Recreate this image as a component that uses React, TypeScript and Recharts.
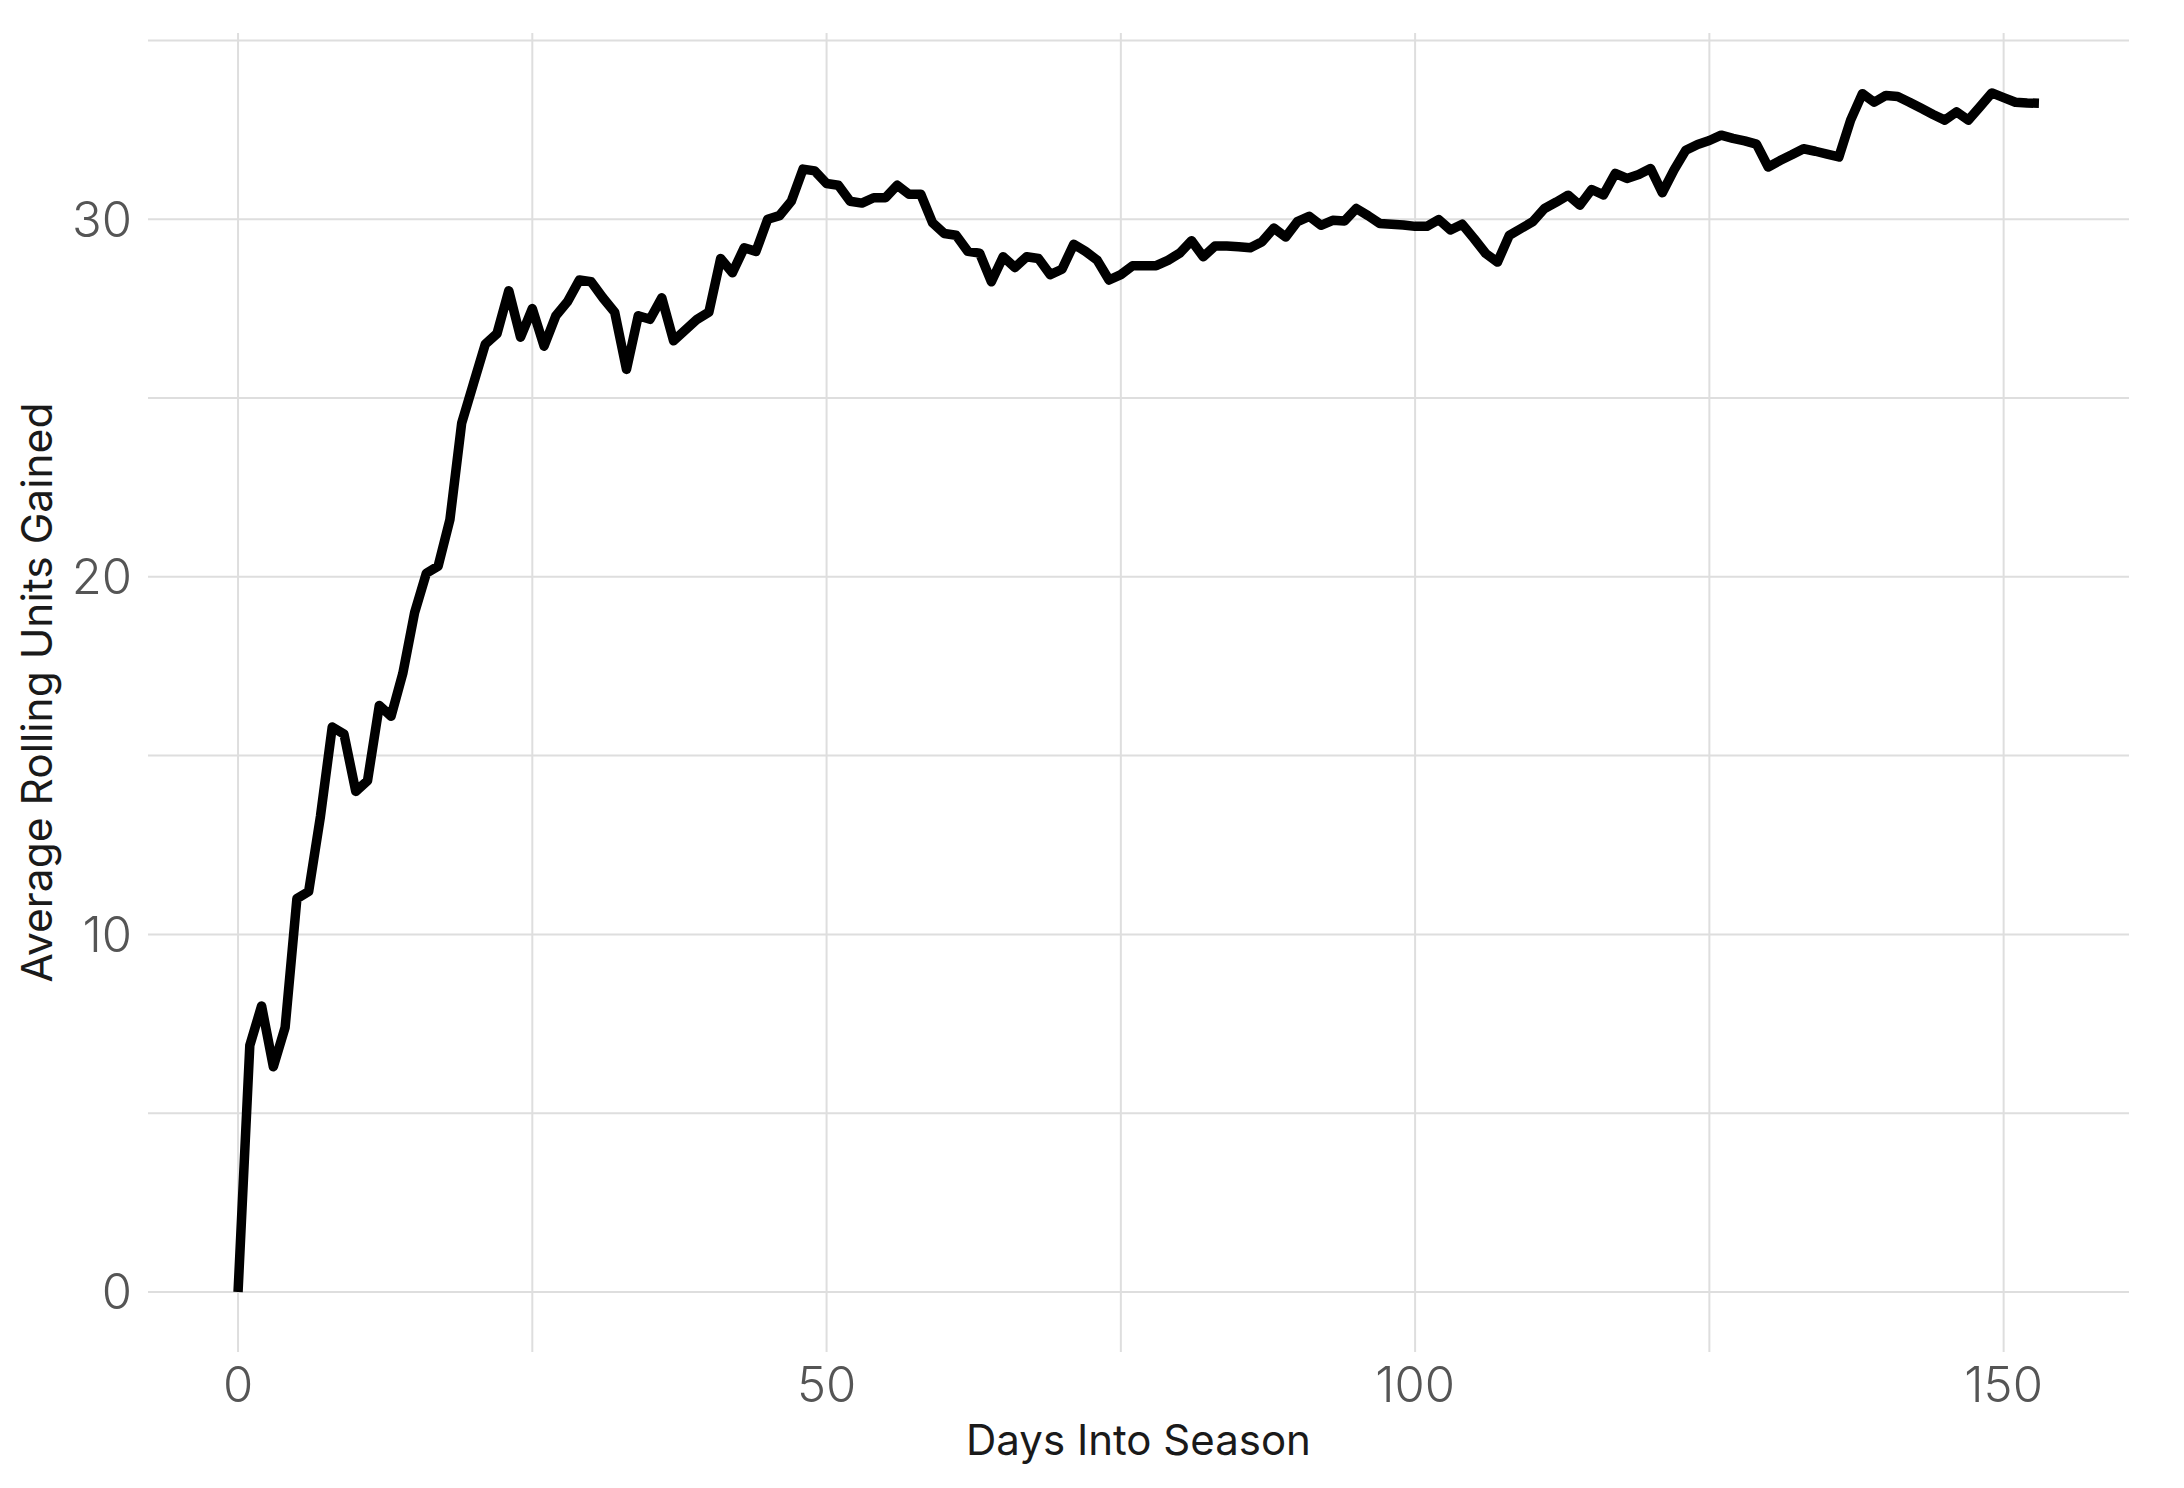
import { CartesianGrid, Line, LineChart, XAxis, YAxis } from "recharts";

// average rolling units gained, one value per day into the season (day 0 .. 153)
const unitsGained = [
  0, 6.9, 8.0, 6.3, 7.4, 11.0, 11.2, 13.3, 15.8, 15.6,
  14.0, 14.3, 16.4, 16.1, 17.3, 19.0, 20.1, 20.3, 21.6, 24.3,
  25.4, 26.5, 26.8, 28.0, 26.7, 27.5, 26.45, 27.3, 27.7, 28.3,
  28.25, 27.8, 27.4, 25.8, 27.3, 27.2, 27.8, 26.6, 26.9, 27.2,
  27.4, 28.9, 28.5, 29.2, 29.1, 30.0, 30.1, 30.5, 31.4, 31.35,
  31.0, 30.95, 30.5, 30.45, 30.6, 30.6, 30.95, 30.7, 30.7, 29.9,
  29.6, 29.55, 29.1, 29.05, 28.25, 28.95, 28.65, 28.95, 28.9, 28.45,
  28.6, 29.3, 29.1, 28.85, 28.3, 28.45, 28.7, 28.7, 28.7, 28.85,
  29.05, 29.4, 28.95, 29.25, 29.25, 29.23, 29.2, 29.37, 29.75, 29.5,
  29.93, 30.08, 29.83, 29.97, 29.95, 30.3, 30.1, 29.88, 29.86, 29.84,
  29.8, 29.8, 29.99, 29.7, 29.86, 29.46, 29.04, 28.8, 29.55, 29.74,
  29.93, 30.3, 30.48, 30.67, 30.39, 30.83, 30.68, 31.28, 31.14, 31.25,
  31.42, 30.74, 31.38, 31.93, 32.09, 32.2, 32.35, 32.26, 32.19, 32.1,
  31.46, 31.64, 31.8, 31.97, 31.9, 31.82, 31.74, 32.77, 33.51, 33.27,
  33.46, 33.43, 33.27, 33.1, 32.93, 32.77, 33.0, 32.77, 33.15, 33.53,
  33.4, 33.27, 33.25, 33.24
];

const xTicks = [0, 25, 50, 75, 100, 125, 150];
const xLabelled = [0, 50, 100, 150];
const yTicks = [0, 5, 10, 15, 20, 25, 30, 35];
const yLabelled = [0, 10, 20, 30];

const data = unitsGained.map((v, i) => ({ day: i, units: v }));

// ggplot style 5% expansion of the data range
const lastDay = data.length - 1;
const maxUnits = Math.max(...unitsGained);
const xPad = lastDay * 0.05;
const yPad = maxUnits * 0.05;

const FONT = "Inter, 'Noto Sans', sans-serif";

const XTitle = (props: any) => {
  const vb = props.viewBox || {};
  return (
    <text
      x={vb.x + vb.width / 2}
      y={vb.y + 103}
      textAnchor="middle"
      fontSize={42}
      fontFamily={FONT}
      fill="#1a1a1a"
    >
      Days Into Season
    </text>
  );
};

const YTitle = (props: any) => {
  const vb = props.viewBox || {};
  const cx = 52;
  const cy = vb.y + vb.height / 2;
  return (
    <text
      x={cx}
      y={cy}
      transform={`rotate(-90, ${cx}, ${cy})`}
      textAnchor="middle"
      fontSize={42.5}
      fontFamily={FONT}
      fill="#1a1a1a"
    >
      Average Rolling Units Gained
    </text>
  );
};

const tickStyle = { fill: "#555", fontSize: 49, fontFamily: FONT, fontWeight: 300 };

export default function App() {
  return (
    <div style={{ width: 2184, height: 1488, background: "#fff" }}>
      <style>{`body{margin:0;}`}</style>
      <LineChart
        width={2184}
        height={1488}
        data={data}
        margin={{ top: 33, right: 55, bottom: 36, left: 0 }}
      >
        <CartesianGrid stroke="#dedede" strokeWidth={2} syncWithTicks />
        <XAxis
          dataKey="day"
          type="number"
          domain={[-xPad, lastDay + xPad]}
          ticks={xTicks}
          tickFormatter={(v: number) => (xLabelled.includes(v) ? String(v) : "")}
          axisLine={false}
          tickLine={false}
          tickSize={0}
          tickMargin={15}
          height={100}
          tick={tickStyle}
          label={(p: any) => <XTitle {...p} />}
        />
        <YAxis
          type="number"
          domain={[-yPad, maxUnits + yPad]}
          ticks={yTicks}
          tickFormatter={(v: number) => (yLabelled.includes(v) ? String(v) : "")}
          axisLine={false}
          tickLine={false}
          tickSize={0}
          tickMargin={16}
          width={148}
          tick={tickStyle}
          label={(p: any) => <YTitle {...p} />}
        />
        <Line
          type="linear"
          dataKey="units"
          stroke="#000"
          strokeWidth={9.5}
          strokeLinejoin="round"
          dot={false}
          activeDot={false}
          isAnimationActive={false}
        />
      </LineChart>
    </div>
  );
}
